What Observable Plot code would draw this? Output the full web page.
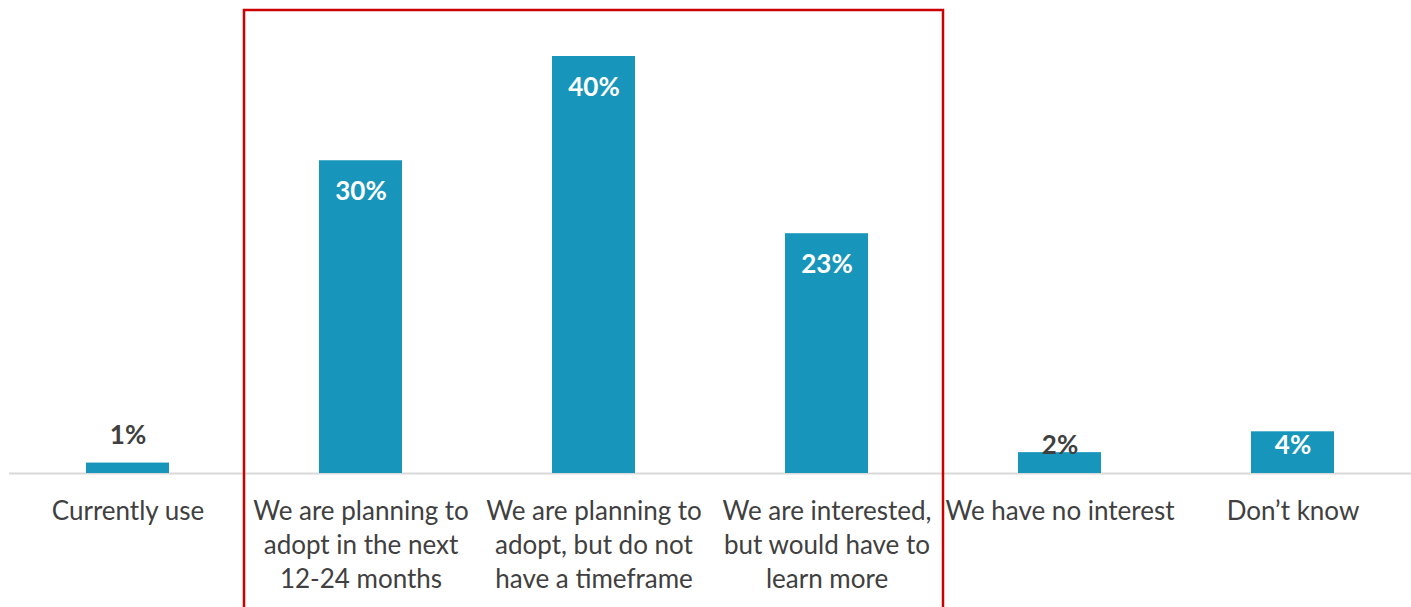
<!DOCTYPE html>
<html>
<head>
<meta charset="utf-8">
<script src="https://cdn.jsdelivr.net/npm/d3@7"></script>
<script src="https://cdn.jsdelivr.net/npm/@observablehq/plot@0.6"></script>
<style>
  html, body { margin: 0; padding: 0; background: #fff; }
  #chart svg { display: block; }
</style>
</head>
<body>
<div id="chart"></div>
<script>
const categories = [
  "Currently use",
  "We are planning to\nadopt in the next\n12-24 months",
  "We are planning to\nadopt, but do not\nhave a timeframe",
  "We are interested,\nbut would have to\nlearn more",
  "We have no interest",
  "Don’t know"
];
const values = [1, 30, 40, 23, 2, 4];
const valueLabels = ["1%", "30%", "40%", "23%", "2%", "4%"];
const highlighted = [categories[1], categories[2], categories[3]];

const data = categories.map((c, i) => ({cat: c, value: values[i], label: valueLabels[i]}));

const FONT = "Lato, 'Source Sans Pro', sans-serif";
const BAR = "#1795BB";
const TEXT = "#404040";

// highlight box around the middle categories (custom render using the x scale)
function highlightBox(index, scales, values, dims, context) {
  const x = scales.x;
  const step = x.step ? x.step() : (dims.width - dims.marginLeft - dims.marginRight) / categories.length;
  const bw = x.bandwidth();
  const pad = (step - bw) / 2;
  const x1 = x(highlighted[0]) - pad;
  const x2 = x(highlighted[highlighted.length - 1]) + bw + pad;
  const g = d3.create("svg:rect")
    .attr("x", x1)
    .attr("y", 10)
    .attr("width", x2 - x1)
    .attr("height", dims.height)
    .attr("fill", "none")
    .attr("stroke", "#CC0000")
    .attr("stroke-width", 2.5);
  return g.node();
}

const chart = Plot.plot({
  width: 1411,
  height: 607,
  marginLeft: 9,
  marginRight: 0,
  marginTop: 56,
  marginBottom: 134,
  style: {fontFamily: FONT, background: "#fff"},
  x: {domain: categories, paddingInner: 0.645, paddingOuter: 0.3225, axis: null},
  y: {domain: [0, 40], axis: null},
  marks: [
    Plot.ruleY([0], {stroke: "#d9d9d9", strokeWidth: 2}),
    Plot.barY(data, {x: "cat", y: "value", fill: BAR}),
    // category labels
    Plot.text(data, {x: "cat", y: 0, text: "cat", dy: 22, lineAnchor: "top", lineHeight: 1.31,
      fontSize: 26, fill: TEXT}),
    // value labels inside tall bars
    Plot.text(data.filter(d => d.value >= 10), {x: "cat", y: "value", text: "label", dy: 31,
      fontSize: 26, fontWeight: "bold", fill: "white"}),
    Plot.text(data.filter(d => d.label === "4%"), {x: "cat", y: "value", text: "label", dy: 14,
      fontSize: 26, fontWeight: "bold", fill: "white"}),
    Plot.text(data.filter(d => d.label === "2%"), {x: "cat", y: "value", text: "label", dy: -7,
      fontSize: 26, fontWeight: "bold", fill: TEXT}),
    Plot.text(data.filter(d => d.label === "1%"), {x: "cat", y: "value", text: "label", dy: -27,
      fontSize: 26, fontWeight: "bold", fill: TEXT}),
    highlightBox
  ]
});
document.getElementById("chart").appendChild(chart);
</script>
</body>
</html>
